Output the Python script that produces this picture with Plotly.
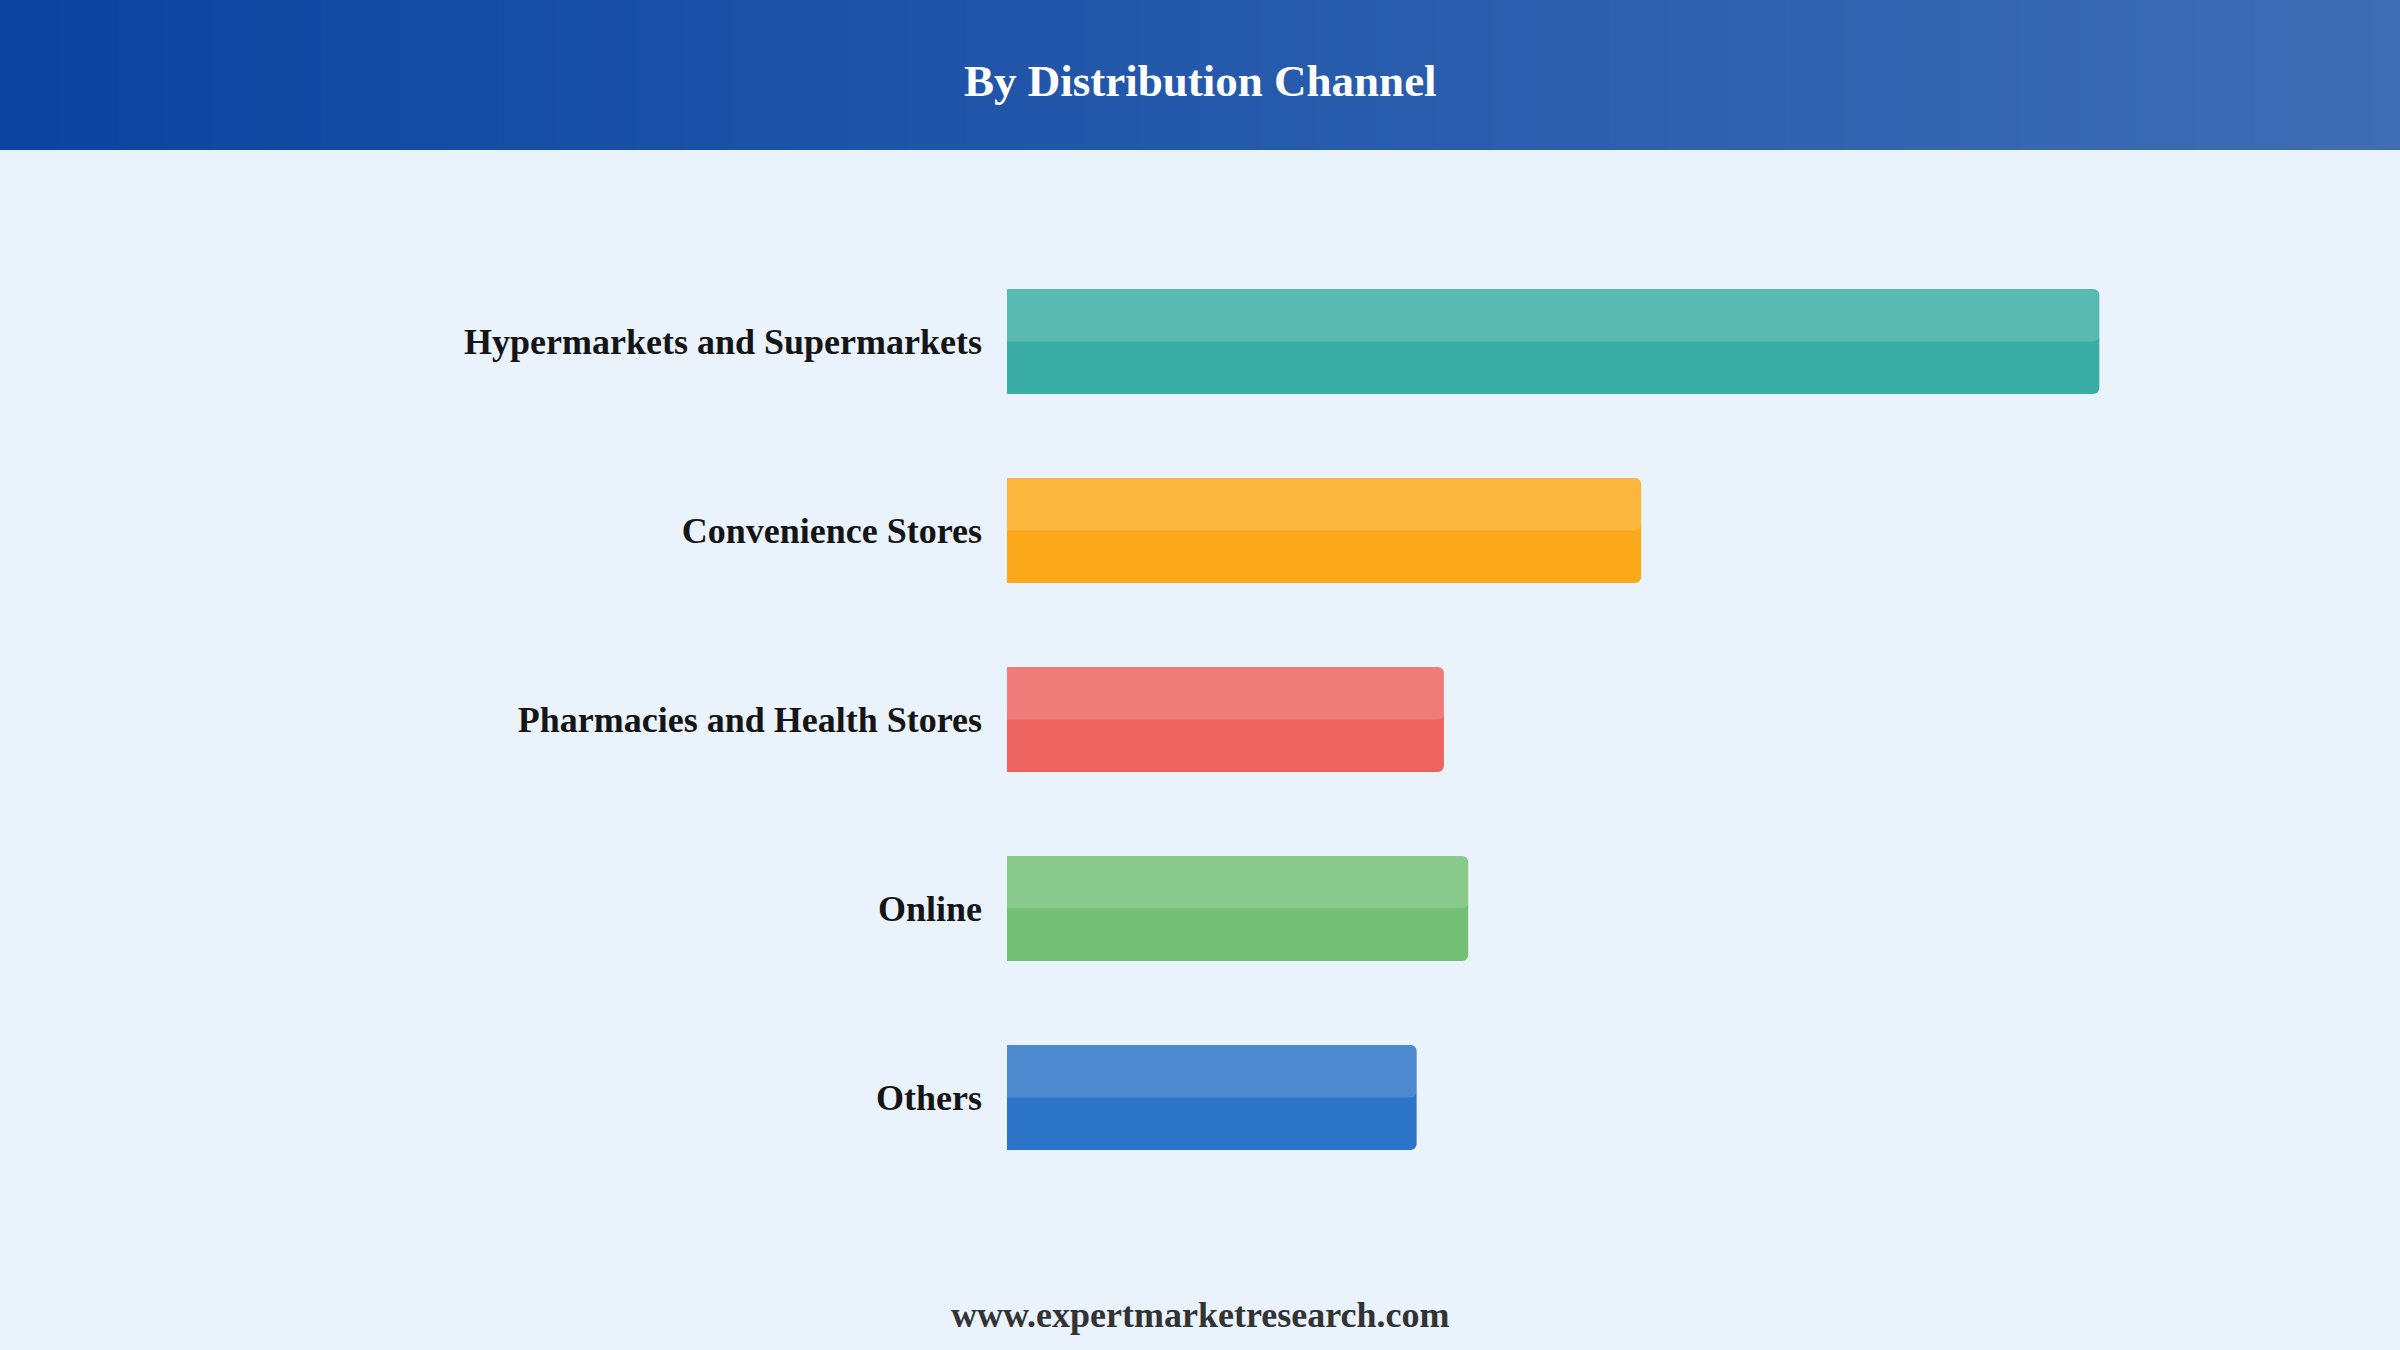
import plotly.graph_objects as go

# ---- data ----
categories = ["Hypermarkets and Supermarkets", "Convenience Stores",
              "Pharmacies and Health Stores", "Online", "Others"]
shares = [36.0, 20.9, 14.4, 15.2, 13.5]
bar_colors = ["#3aada4", "#fba81a", "#ee6461", "#73bf76", "#2b74c7"]

title_text = "By Distribution Channel"
footer_text = "www.expertmarketresearch.com"
header_stops = [0, 1]
header_colors = ["#0b44a1", "#3e6db5"]

W, H = 2400, 1350
BG = "#eaf2fb"
FONT = "Liberation Serif"

fig = go.Figure()

# header gradient band
fig.add_trace(go.Heatmap(
    z=[header_stops, header_stops], x=header_stops, y=[0, 1],
    colorscale=[[0, header_colors[0]], [1, header_colors[1]]],
    zsmooth="best", showscale=False, hoverinfo="skip",
    xaxis="x2", yaxis="y2"))

# main bars
fig.add_trace(go.Bar(
    x=shares, y=categories, orientation="h",
    marker=dict(color=bar_colors, cornerradius=6, line=dict(width=0)),
    width=0.555, hoverinfo="skip"))

# lighter top half highlight
fig.add_trace(go.Bar(
    x=shares, y=categories, orientation="h",
    marker=dict(color="rgba(255,255,255,0.16)", cornerradius=6, line=dict(width=0)),
    width=0.2775, offset=-0.2775, hoverinfo="skip"))

fig.update_layout(
    width=W, height=H,
    margin=dict(l=0, r=0, t=0, b=0),
    paper_bgcolor=BG, plot_bgcolor=BG,
    barmode="overlay", showlegend=False,
    xaxis=dict(domain=[1007 / W, 2160 / W], range=[0, 38.0],
               visible=False, fixedrange=True),
    yaxis=dict(domain=[(H - 1192) / H, (H - 247) / H],
               range=[4.5, -0.5], type="category",
               showgrid=False, zeroline=False, showline=False,
               ticks="", ticklabelstandoff=24,
               tickfont=dict(family=FONT, size=36, color="#151515", weight="bold")),
    xaxis2=dict(domain=[0, 1], range=[0, 1], visible=False, anchor="y2"),
    yaxis2=dict(domain=[1 - 150 / H, 1], range=[0, 1], visible=False, anchor="x2"),
    annotations=[
        dict(text=title_text, x=0.5, y=(H - 81) / H, xref="paper", yref="paper",
             xanchor="center", yanchor="middle", showarrow=False,
             font=dict(family=FONT, size=45, color="#ffffff", weight="bold")),
        dict(text=footer_text, x=0.5, y=(H - 1315) / H, xref="paper", yref="paper",
             xanchor="center", yanchor="middle", showarrow=False,
             font=dict(family=FONT, size=36, color="#333333", weight="bold")),
    ],
)

fig.write_html(
    "out.html",
    config={"displayModeBar": False},
    post_script="document.body.style.margin='0';document.body.style.background='" + BG + "';",
)
